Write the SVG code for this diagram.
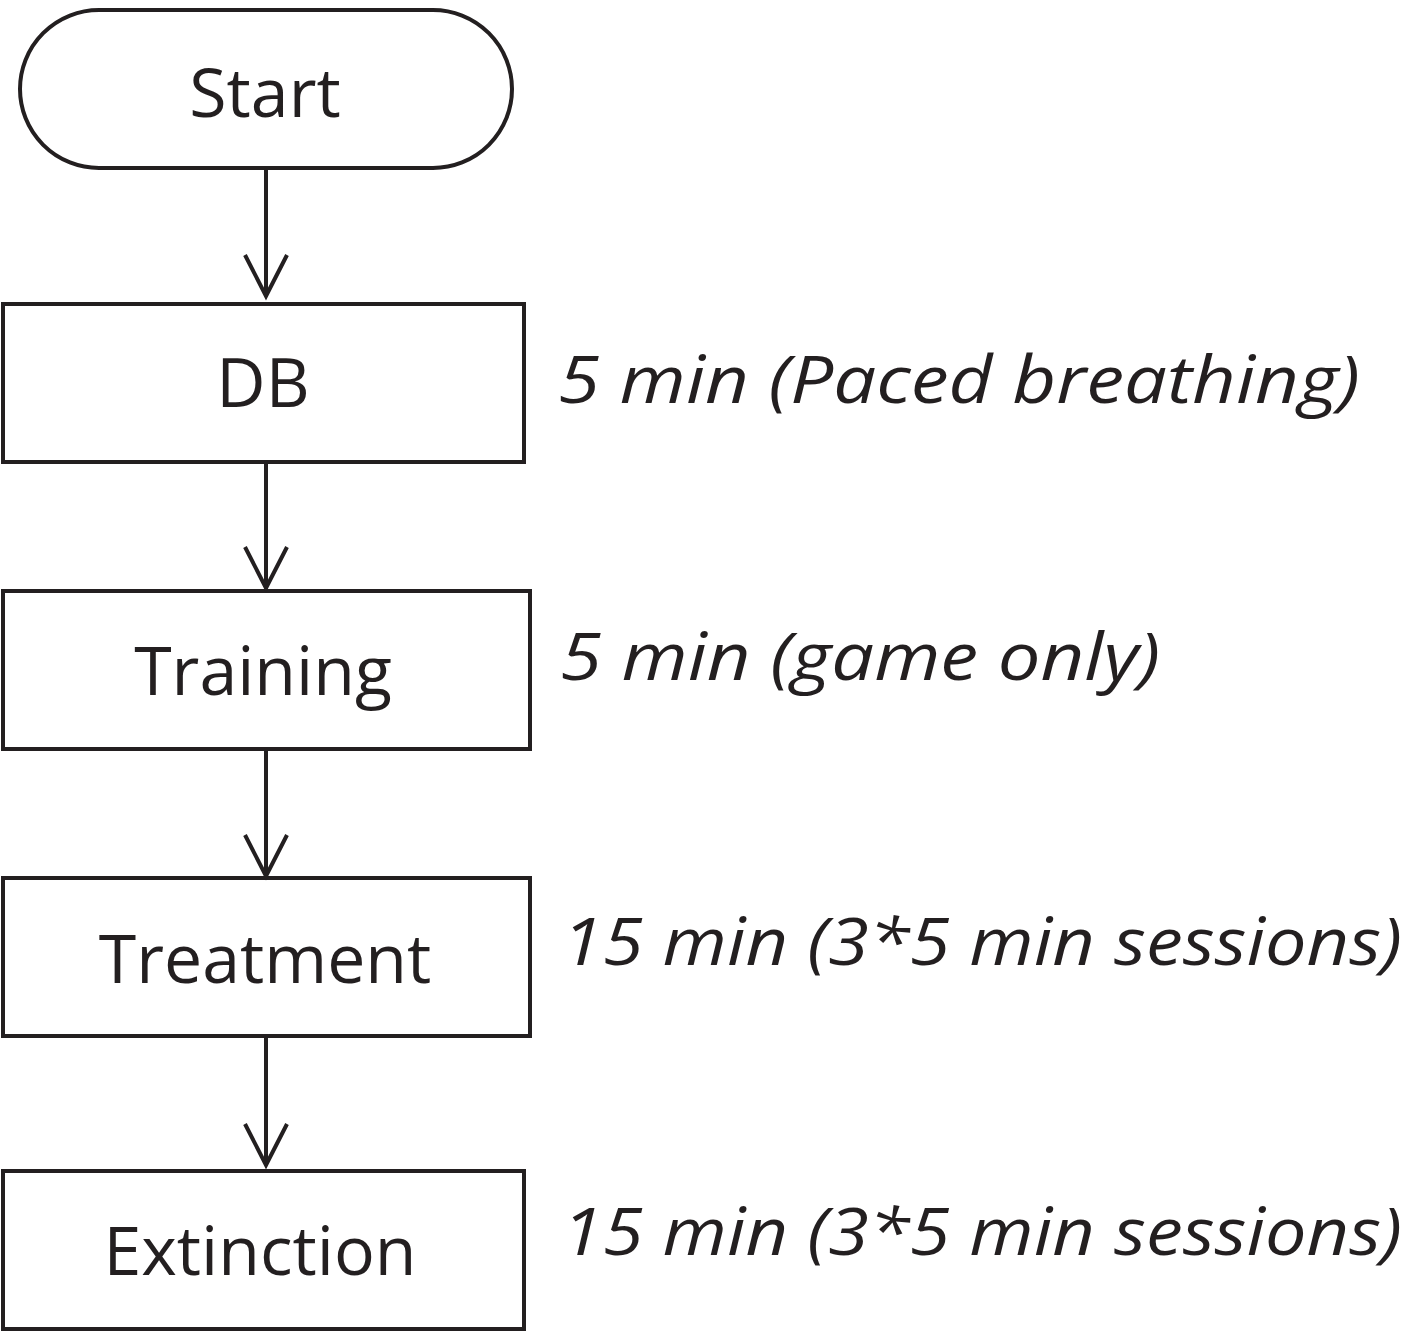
<svg xmlns="http://www.w3.org/2000/svg" width="1408" height="1333" viewBox="0 0 1408 1333">
<style>
.box{fill:#fff;stroke:#231f20;stroke-width:4}
.lbl{font-family:"Open Sans","Noto Sans",sans-serif;font-size:68px;fill:#231f20;text-anchor:middle}
.side{font-family:"Open Sans","Noto Sans",sans-serif;font-size:66px;font-style:italic;fill:#231f20}
.con{stroke:#231f20;stroke-width:4;fill:none}
</style>
<rect width="1408" height="1333" fill="#fff"/>
<g id="start"><rect class="box" x="20" y="10" width="492" height="158" rx="79"/><text class="lbl" x="265" y="117">Start</text></g>
<g id="db"><rect class="box" x="3" y="304" width="521" height="158"/><text class="lbl" x="263" y="407">DB</text><text class="side" x="558" y="403" textLength="802" lengthAdjust="spacingAndGlyphs">5 min (Paced breathing)</text></g>
<g id="training"><rect class="box" x="3" y="591" width="527" height="158"/><text class="lbl" x="263" y="695">Training</text><text class="side" x="560" y="680" textLength="600" lengthAdjust="spacingAndGlyphs">5 min (game  only)</text></g>
<g id="treatment"><rect class="box" x="3" y="878" width="527" height="158"/><text class="lbl" x="265" y="983">Treatment</text><text class="side" x="562" y="965" textLength="840" lengthAdjust="spacingAndGlyphs">15 min (3*5 min sessions)</text></g>
<g id="extinction"><rect class="box" x="3" y="1171" width="521" height="158"/><text class="lbl" x="260" y="1275">Extinction</text><text class="side" x="562" y="1255" textLength="840" lengthAdjust="spacingAndGlyphs">15 min (3*5 min sessions)</text></g>
<g id="connectors">
<path class="con" d="M266 168V296M245 255L266 296L287 255"/>
<path class="con" d="M266 462V588M245 547L266 588L287 547"/>
<path class="con" d="M266 749V876M245 835L266 876L287 835"/>
<path class="con" d="M266 1036V1165M245 1124L266 1165L287 1124"/>
</g>
</svg>
